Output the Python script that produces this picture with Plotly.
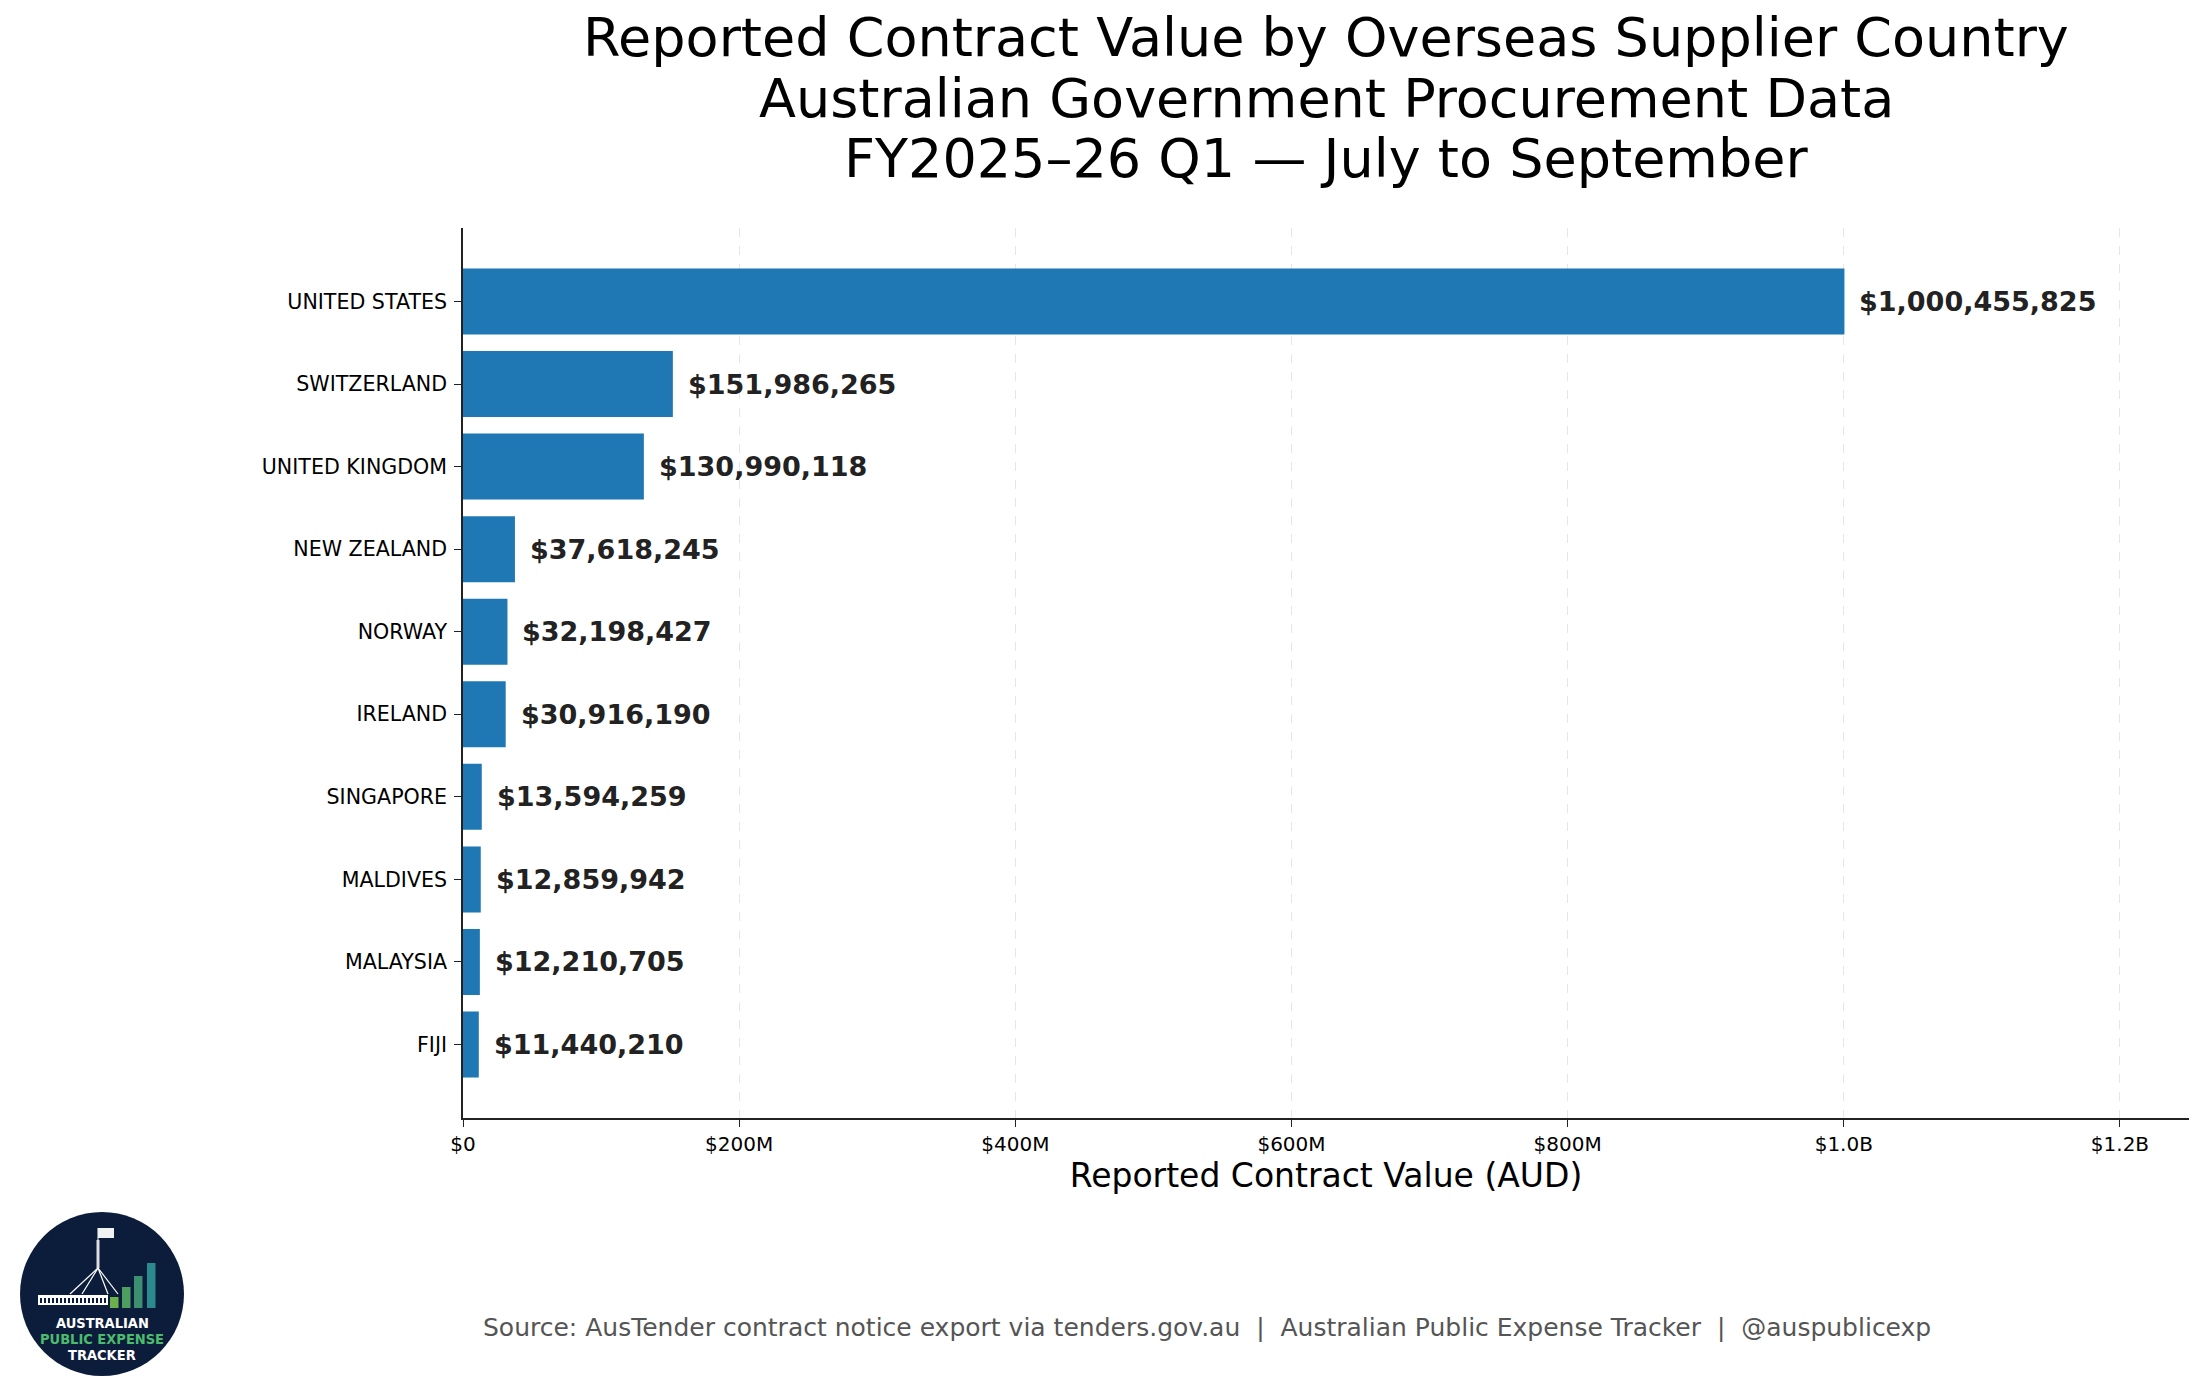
import plotly.graph_objects as go

# ---- data ----
countries = ["UNITED STATES", "SWITZERLAND", "UNITED KINGDOM", "NEW ZEALAND", "NORWAY",
             "IRELAND", "SINGAPORE", "MALDIVES", "MALAYSIA", "FIJI"]
values = [1000455825, 151986265, 130990118, 37618245, 32198427,
          30916190, 13594259, 12859942, 12210705, 11440210]
x_tickvals = [0, 200e6, 400e6, 600e6, 800e6, 1.0e9, 1.2e9]
x_ticktext = ["$0", "$200M", "$400M", "$600M", "$800M", "$1.0B", "$1.2B"]

title_lines = ["Reported Contract Value by Overseas Supplier Country",
               "Australian Government Procurement Data",
               "FY2025\u201326 Q1 \u2014 July to September"]
x_title = "Reported Contract Value (AUD)"
source_text = ("Source: AusTender contract notice export via tenders.gov.au\u00a0 |\u00a0 "
               "Australian Public Expense Tracker\u00a0 |\u00a0 @auspublicexp")

# ---- geometry (pixels) ----
W, H = 2205, 1397
L, R, T, B = 463, 2189, 228, 1118
PW, PH = R - L, B - T


def px2x(px):
    return (px - L) / PW


def py2y(py):
    return (B - py) / PH


n = len(countries)
fig = go.Figure()
fig.add_trace(go.Bar(
    x=values, y=countries, orientation="h",
    marker=dict(color="#1f77b4", line=dict(width=0)),
    width=0.8, hoverinfo="skip",
))

annotations = []
for c, v in zip(countries, values):
    annotations.append(dict(
        x=v, y=c, xref="x", yref="y", text="<b>${:,}</b>".format(v),
        showarrow=False, xanchor="left", yanchor="middle", xshift=13,
        font=dict(family="DejaVu Sans", size=27, color="#222222"),
    ))

# title lines
for txt, cy in zip(title_lines, [38, 98, 158]):
    annotations.append(dict(
        x=px2x(1326), y=py2y(cy), xref="paper", yref="paper", text=txt,
        showarrow=False, xanchor="center", yanchor="middle",
        font=dict(family="DejaVu Sans", size=54, color="#000000"),
    ))

# source line
annotations.append(dict(
    x=px2x(1207), y=py2y(1327), xref="paper", yref="paper", text=source_text,
    showarrow=False, xanchor="center", yanchor="middle",
    font=dict(family="DejaVu Sans", size=25, color="#555555"),
))

# logo text
for txt, col, cy in [("<b>AUSTRALIAN</b>", "#ffffff", 1323),
                     ("<b>PUBLIC EXPENSE</b>", "#4cbb6c", 1339),
                     ("<b>TRACKER</b>", "#ffffff", 1355)]:
    annotations.append(dict(
        x=px2x(102), y=py2y(cy), xref="paper", yref="paper", text=txt,
        showarrow=False, xanchor="center", yanchor="middle",
        font=dict(family="Liberation Sans Narrow, DejaVu Sans Condensed, DejaVu Sans", size=14.5, color=col),
    ))

shapes = []
# logo circle
shapes.append(dict(type="circle", xref="paper", yref="paper",
                   x0=px2x(20), x1=px2x(184), y0=py2y(1376), y1=py2y(1212),
                   fillcolor="#0c1d3b", line=dict(width=0), layer="above"))


def rect(x0, y0, x1, y1, color, lw=0, lc=None, fill=True):
    return dict(type="rect", xref="paper", yref="paper",
                x0=px2x(x0), x1=px2x(x1), y0=py2y(y1), y1=py2y(y0),
                fillcolor=color if fill else "rgba(0,0,0,0)",
                line=dict(width=lw, color=lc or color), layer="above")


def line(x0, y0, x1, y1, color="#ffffff", w=1.2):
    return dict(type="line", xref="paper", yref="paper",
                x0=px2x(x0), x1=px2x(x1), y0=py2y(y0), y1=py2y(y1),
                line=dict(width=w, color=color), layer="above")


# building
shapes.append(rect(38, 1295, 108, 1305, "#ffffff", lw=0))
for wx in range(40, 106, 4):
    shapes.append(rect(wx, 1298, wx + 2, 1303, "#0c1d3b"))
# flag pole and legs
shapes.append(rect(96.5, 1240, 99.5, 1268, "#dddddd"))
shapes.append(line(98, 1228, 98, 1240, "#dddddd", 1.2))
shapes.append(rect(98, 1228, 114, 1238, "#f2f2f2"))
for bx in [70, 82, 108, 118]:
    shapes.append(line(98, 1268, bx, 1294))
# bars
for x0, top, col in [(110, 1297, "#6ab04c"), (122, 1287, "#4e9e62"),
                     (134, 1276, "#3d8f72"), (147, 1263, "#2a8a8c")]:
    shapes.append(rect(x0, top, x0 + 8.5, 1308, col))

fig.update_layout(
    width=W, height=H,
    margin=dict(l=L, r=W - R, t=T, b=H - B, pad=0),
    paper_bgcolor="white", plot_bgcolor="white",
    showlegend=False,
    font=dict(family="DejaVu Sans", color="#000000"),
    xaxis=dict(range=[0, 1.25e9], tickvals=x_tickvals, ticktext=x_ticktext,
               showgrid=True, gridcolor="#e6e6e6", gridwidth=1.3, griddash="dash",
               showline=True, linecolor="#222222", linewidth=1.6,
               ticks="outside", ticklen=7, tickcolor="#222222", tickwidth=1.3,
               tickfont=dict(family="DejaVu Sans", size=20, color="#000000"),
               zeroline=False, fixedrange=True,
               title=dict(text=x_title, standoff=8,
                          font=dict(family="DejaVu Sans", size=33, color="#000000"))),
    yaxis=dict(type="category", categoryorder="array", categoryarray=countries,
               range=[n - 1 + 0.89, -0.89], showgrid=False,
               showline=True, linecolor="#222222", linewidth=1.6,
               ticks="outside", ticklen=7, tickcolor="#222222", tickwidth=1.3,
               tickfont=dict(family="DejaVu Sans", size=20.6, color="#000000"),
               zeroline=False, fixedrange=True, ticklabelstandoff=3),
    annotations=annotations,
    shapes=shapes,
)

fig.write_html("out.html", post_script="document.body.style.margin='0';",
               config={"displayModeBar": False})
